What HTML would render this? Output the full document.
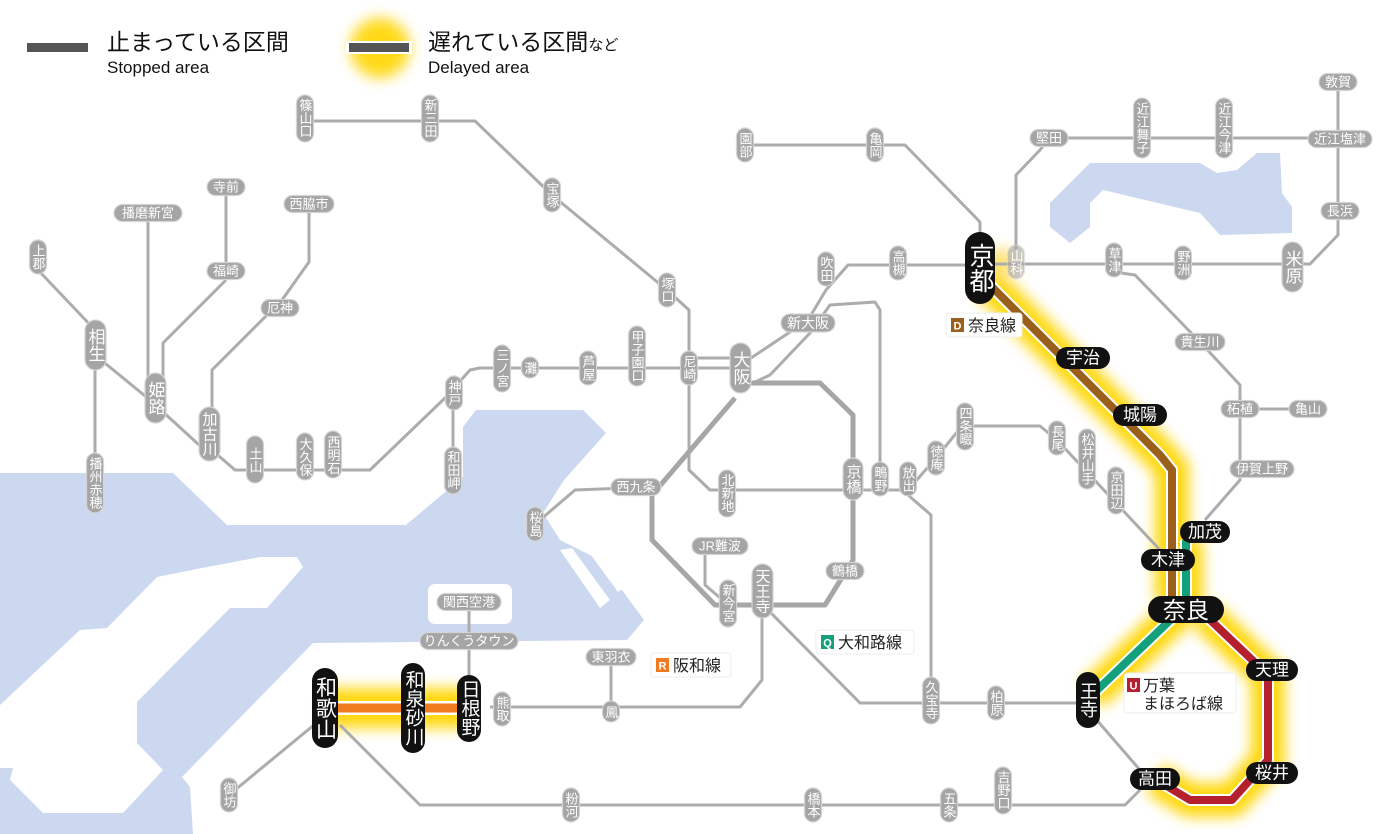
<!DOCTYPE html>
<html><head><meta charset="utf-8">
<style>
html,body{margin:0;padding:0;background:#fff;width:1400px;height:834px;overflow:hidden}
svg{display:block;font-family:"Liberation Sans","Noto Sans CJK JP",sans-serif}
.l{fill:none;stroke:#acacac;stroke-width:3;stroke-linejoin:round}
.lt{fill:none;stroke:#a6a6a6;stroke-width:5;stroke-linejoin:round}
.s{fill:#a5a5a5;stroke:#d4d4d4;stroke-width:1.2}
.t{fill:#fff;font-size:13px;text-anchor:middle;dominant-baseline:central}
.v{writing-mode:tb;glyph-orientation-vertical:0}
.tb{fill:#fff;text-anchor:middle;dominant-baseline:central}
.k{fill:#111}
</style></head><body>
<svg width="1400" height="834" viewBox="0 0 1400 834" xmlns="http://www.w3.org/2000/svg">
<defs>
<filter id="g" x="-30%" y="-30%" width="160%" height="160%"><feGaussianBlur stdDeviation="7"/></filter>
</defs>
<!-- water -->
<path d="M0,473 L173,473 L227,525 L406,525 L463,477 L463,427 L476,410 L583,410 L606,433 L564,480 L543,513 L560,540 L600,560 L644,620 L627,640 L313,643 L182,777 L190,787 L193,834 L0,834 Z" fill="#cbd8ef"/>
<path d="M107,628 L157,577 L207,567 L260,557 L297,557 L303,567 L267,608 L230,608 L137,702 L137,743 L163,770 L123,813 L43,813 L10,780 L13,768 L0,768 L0,705 L80,630 Z" fill="#fff"/>
<rect x="428" y="584" width="84" height="40" rx="7" fill="#fff"/>
<path d="M560,550 L572,548 L610,600 L600,608 Z M580,540 L594,536 L628,585 L618,592 Z" fill="#fff"/>
<path d="M1050,203 L1090,163 L1200,163 L1217,173 L1237,170 L1257,153 L1280,153 L1282,193 L1292,207 L1292,233 L1220,235 L1200,213 L1103,190 L1090,203 L1090,227 L1070,243 L1050,227 Z" fill="#cbd8ef"/>

<!-- glows -->
<g filter="url(#g)" opacity="0.95">
<path d="M985,280 L1160,455 L1172,470 L1172,600" stroke="#ffd500" stroke-width="34" fill="none"/>
<path d="M1186,540 L1186,605 L1092,695 M1205,615 L1268,675 L1268,760 L1232,800 L1190,800 L1155,779" stroke="#ffd500" stroke-width="34" fill="none" stroke-linejoin="round"/>
<path d="M325,708 L469,708" stroke="#ffd500" stroke-width="40" fill="none"/>
<path d="M980,262 L1015,262" stroke="#ffe070" stroke-width="24" fill="none"/>
</g>

<!-- gray lines -->
<g class="l">
<path d="M38,270 L95,330"/>
<path d="M95,355 L150,400 L210,455"/>
<path d="M95,355 L95,470"/>
<path d="M148,222 L148,398"/>
<path d="M226,196 L226,262 M226,280 L163,343 L163,385"/>
<path d="M309,213 L309,262 L282,300 L212,370 L212,420"/>
<path d="M212,450 L235,470 L370,470 L445,398 L470,370 L480,368 L740,368"/>
<path d="M445,398 L453,410 L453,455"/>
<path d="M690,358 L740,358"/>
<path d="M305,121 L475,121 L552,195 L667,290 L689,310 L689,470 L710,490 L908,490"/>
<path d="M880,490 L908,490"/>
<path d="M908,490 L936,458 L962,426 L1040,426 L1057,440 L1160,550"/>
<path d="M908,495 L931,515 L931,703"/>
<path d="M652,487 L575,490 L540,520"/>
<path d="M705,555 L705,585 L725,602"/>
<path d="M748,360 L808,320 L826,290 L848,265 L965,265"/>
<path d="M755,382 L770,375 L810,333 L830,305 L875,302 L880,310 L880,470"/>
<path d="M745,145 L905,145 L980,222 L980,240"/>
<path d="M985,264 L1310,264 L1338,235 L1338,82"/>
<path d="M1016,250 L1016,175 L1040,150 L1049,138 L1340,138"/>
<path d="M1114,272 L1135,275 L1200,342 L1240,385 L1240,480 L1205,520"/>
<path d="M1240,409 L1308,409"/>
<path d="M770,612 L860,703 L1088,703"/>
<path d="M1095,718 L1140,770"/>
<path d="M762,615 L762,680 L740,707 L490,707"/>
<path d="M611,657 L611,712"/>
<path d="M469,602 L469,690"/>
<path d="M320,720 L235,790"/>
<path d="M340,725 L420,805 L1125,805 L1140,790"/>
</g>
<g class="lt">
<path d="M745,383 L820,383 L853,415 L853,560 L825,605 L715,605 L652,540 L652,495 L735,398"/>
</g>

<!-- colored delayed lines -->
<path d="M985,280 L1160,455 L1172,470 L1172,600" stroke="#fff" stroke-width="12" fill="none"/>
<path d="M985,280 L1160,455 L1172,470 L1172,600" stroke="#9b5f1c" stroke-width="8" fill="none"/>
<path d="M1186,540 L1186,605 L1092,695" stroke="#fff" stroke-width="12" fill="none" stroke-linejoin="round"/>
<path d="M1186,540 L1186,605 L1092,695" stroke="#13a07a" stroke-width="8" fill="none" stroke-linejoin="round"/>
<path d="M1205,615 L1268,675 L1268,760 L1232,800 L1190,800 L1155,779" stroke="#fff" stroke-width="12" fill="none" stroke-linejoin="round"/>
<path d="M1205,615 L1268,675 L1268,760 L1232,800 L1190,800 L1155,779" stroke="#b5202e" stroke-width="8" fill="none" stroke-linejoin="round"/>
<path d="M325,708 L469,708" stroke="#fff" stroke-width="14" fill="none"/>
<path d="M325,708 L469,708" stroke="#f07a1e" stroke-width="9" fill="none"/>

<!-- gray stations vertical (13px) -->
<g>
<rect class="s" x="29.5" y="240" width="17" height="34" rx="8.5"/><text class="t v" x="38" y="257">上郡</text>
<rect class="s" x="86.5" y="453" width="17" height="60" rx="8.5"/><text class="t v" x="95" y="483">播州赤穂</text>
<rect class="s" x="246.5" y="436" width="17" height="47" rx="8.5"/><text class="t v" x="255" y="460">土山</text>
<rect class="s" x="296.5" y="433" width="17" height="47" rx="8.5"/><text class="t v" x="305" y="457">大久保</text>
<rect class="s" x="324.5" y="431" width="17" height="47" rx="8.5"/><text class="t v" x="333" y="455">西明石</text>
<rect class="s" x="445.5" y="376" width="17" height="34" rx="8.5"/><text class="t v" x="454" y="393">神戸</text>
<rect class="s" x="444.5" y="447" width="17" height="47" rx="8.5"/><text class="t v" x="453" y="470">和田岬</text>
<rect class="s" x="493.5" y="345" width="17" height="47" rx="8.5"/><text class="t v" x="502" y="368">三ノ宮</text>
<rect class="s" x="521.5" y="357" width="17" height="21" rx="8.5"/><text class="t v" x="530" y="368">灘</text>
<rect class="s" x="579.5" y="351" width="17" height="34" rx="8.5"/><text class="t v" x="588" y="368">芦屋</text>
<rect class="s" x="628.5" y="326" width="17" height="60" rx="8.5"/><text class="t v" x="637" y="356">甲子園口</text>
<rect class="s" x="680.5" y="351" width="17" height="34" rx="8.5"/><text class="t v" x="689" y="368">尼崎</text>
<rect class="s" x="658.5" y="273" width="17" height="34" rx="8.5"/><text class="t v" x="667" y="290">塚口</text>
<rect class="s" x="543.5" y="178" width="17" height="34" rx="8.5"/><text class="t v" x="552" y="195">宝塚</text>
<rect class="s" x="421.5" y="95" width="17" height="47" rx="8.5"/><text class="t v" x="430" y="118">新三田</text>
<rect class="s" x="296.5" y="95" width="17" height="47" rx="8.5"/><text class="t v" x="305" y="118">篠山口</text>
<rect class="s" x="736.5" y="128" width="17" height="34" rx="8.5"/><text class="t v" x="745" y="145">園部</text>
<rect class="s" x="866.5" y="128" width="17" height="34" rx="8.5"/><text class="t v" x="875" y="145">亀岡</text>
<rect class="s" x="817.5" y="252" width="17" height="34" rx="8.5"/><text class="t v" x="826" y="269">吹田</text>
<rect class="s" x="889.5" y="246" width="17" height="34" rx="8.5"/><text class="t v" x="898" y="263">高槻</text>
<rect class="s" x="1007.5" y="245" width="17" height="34" rx="8.5" opacity="0.6"/><text class="t v" x="1016" y="262">山科</text>
<rect class="s" x="1133.5" y="98" width="17" height="60" rx="8.5"/><text class="t v" x="1142" y="128">近江舞子</text>
<rect class="s" x="1215.5" y="98" width="17" height="60" rx="8.5"/><text class="t v" x="1224" y="128">近江今津</text>
<rect class="s" x="1174.5" y="246" width="17" height="34" rx="8.5"/><text class="t v" x="1183" y="263">野洲</text>
<rect class="s" x="1105.5" y="243" width="17" height="34" rx="8.5"/><text class="t v" x="1114" y="260">草津</text>
<rect class="s" x="956.5" y="403" width="17" height="47" rx="8.5"/><text class="t v" x="965" y="426">四条畷</text>
<rect class="s" x="1048.5" y="421" width="17" height="34" rx="8.5"/><text class="t v" x="1057" y="438">長尾</text>
<rect class="s" x="1078.5" y="429" width="17" height="60" rx="8.5"/><text class="t v" x="1087" y="459">松井山手</text>
<rect class="s" x="1107.5" y="467" width="17" height="47" rx="8.5"/><text class="t v" x="1116" y="490">京田辺</text>
<rect class="s" x="927.5" y="441" width="17" height="34" rx="8.5"/><text class="t v" x="936" y="458">徳庵</text>
<rect class="s" x="899.5" y="462" width="17" height="34" rx="8.5"/><text class="t v" x="908" y="479">放出</text>
<rect class="s" x="871.5" y="462" width="17" height="34" rx="8.5"/><text class="t v" x="880" y="479">鴫野</text>
<rect class="s" x="718.5" y="470" width="17" height="47" rx="8.5"/><text class="t v" x="727" y="493">北新地</text>
<rect class="s" x="526.5" y="507" width="17" height="34" rx="8.5"/><text class="t v" x="535" y="524">桜島</text>
<rect class="s" x="719.5" y="580" width="17" height="47" rx="8.5"/><text class="t v" x="728" y="603">新今宮</text>
<rect class="s" x="602.5" y="701" width="17" height="21" rx="8.5"/><text class="t v" x="611" y="712">鳳</text>
<rect class="s" x="493.5" y="692" width="17" height="34" rx="8.5"/><text class="t v" x="502" y="709">熊取</text>
<rect class="s" x="220.5" y="778" width="17" height="34" rx="8.5"/><text class="t v" x="229" y="795">御坊</text>
<rect class="s" x="562.5" y="788" width="17" height="34" rx="8.5"/><text class="t v" x="571" y="805">粉河</text>
<rect class="s" x="804.5" y="788" width="17" height="34" rx="8.5"/><text class="t v" x="813" y="805">橋本</text>
<rect class="s" x="940.5" y="788" width="17" height="34" rx="8.5"/><text class="t v" x="949" y="805">五条</text>
<rect class="s" x="994.5" y="767" width="17" height="47" rx="8.5"/><text class="t v" x="1003" y="790">吉野口</text>
<rect class="s" x="922.5" y="677" width="17" height="47" rx="8.5"/><text class="t v" x="931" y="700">久宝寺</text>
<rect class="s" x="987.5" y="686" width="17" height="34" rx="8.5"/><text class="t v" x="996" y="703">柏原</text>
</g>
<!-- larger gray vertical -->
<g>
<rect class="s" x="85" y="320" width="21" height="50" rx="10.5"/><text class="t v" x="95" y="345" style="font-size:17px">相生</text>
<rect class="s" x="145" y="373" width="21" height="50" rx="10.5"/><text class="t v" x="155" y="398" style="font-size:17px">姫路</text>
<rect class="s" x="199" y="407" width="21" height="54" rx="10.5"/><text class="t v" x="209" y="434" style="font-size:15px">加古川</text>
<rect class="s" x="730" y="343" width="21" height="50" rx="10.5"/><text class="t v" x="740" y="368" style="font-size:17px">大阪</text>
<rect class="s" x="1282" y="242" width="21" height="50" rx="10.5"/><text class="t v" x="1292" y="267" style="font-size:17px">米原</text>
<rect class="s" x="843" y="458" width="20" height="42" rx="10"/><text class="t v" x="853" y="479" style="font-size:15px">京橋</text>
<rect class="s" x="752" y="564" width="21" height="54" rx="10.5"/><text class="t v" x="762" y="591" style="font-size:15px">天王寺</text>
</g>
<!-- gray horizontal -->
<g>
<rect class="s" x="114" y="204.5" width="68" height="17" rx="8.5"/><text class="t" x="148" y="213">播磨新宮</text>
<rect class="s" x="207" y="178.5" width="38" height="17" rx="8.5"/><text class="t" x="226" y="187">寺前</text>
<rect class="s" x="207" y="262.5" width="38" height="17" rx="8.5"/><text class="t" x="226" y="271">福崎</text>
<rect class="s" x="284" y="195.5" width="50" height="17" rx="8.5"/><text class="t" x="309" y="204">西脇市</text>
<rect class="s" x="261" y="299.5" width="38" height="17" rx="8.5"/><text class="t" x="280" y="308">厄神</text>
<rect class="s" x="781" y="314" width="54" height="18" rx="9"/><text class="t" x="808" y="323" style="font-size:14px">新大阪</text>
<rect class="s" x="1030" y="129.5" width="38" height="17" rx="8.5"/><text class="t" x="1049" y="138">堅田</text>
<rect class="s" x="1308" y="130.5" width="64" height="17" rx="8.5"/><text class="t" x="1340" y="139">近江塩津</text>
<rect class="s" x="1319" y="73.5" width="38" height="17" rx="8.5"/><text class="t" x="1338" y="82">敦賀</text>
<rect class="s" x="1321" y="202.5" width="38" height="17" rx="8.5"/><text class="t" x="1340" y="211">長浜</text>
<rect class="s" x="1175" y="333.5" width="50" height="17" rx="8.5"/><text class="t" x="1200" y="342">貴生川</text>
<rect class="s" x="1221" y="400.5" width="38" height="17" rx="8.5"/><text class="t" x="1240" y="409">柘植</text>
<rect class="s" x="1289" y="400.5" width="38" height="17" rx="8.5"/><text class="t" x="1308" y="409">亀山</text>
<rect class="s" x="1230" y="460.5" width="64" height="17" rx="8.5"/><text class="t" x="1262" y="469">伊賀上野</text>
<rect class="s" x="611" y="478.5" width="50" height="17" rx="8.5"/><text class="t" x="636" y="487">西九条</text>
<rect class="s" x="692" y="537.5" width="56" height="17" rx="8.5"/><text class="t" x="720" y="546">JR難波</text>
<rect class="s" x="826" y="562.5" width="38" height="17" rx="8.5"/><text class="t" x="845" y="571">鶴橋</text>
<rect class="s" x="586" y="648.5" width="50" height="17" rx="8.5"/><text class="t" x="611" y="657">東羽衣</text>
<rect class="s" x="437" y="593.5" width="64" height="17" rx="8.5"/><text class="t" x="469" y="602">関西空港</text>
<rect class="s" x="420" y="632.5" width="98" height="17" rx="8.5"/><text class="t" x="469" y="641">りんくうタウン</text>
</g>

<!-- black stations -->
<g>
<rect class="k" x="965" y="232" width="30" height="72" rx="15"/><text class="tb v" x="980" y="268" style="font-size:25px">京都</text>
<rect class="k" x="1148" y="596" width="76" height="27" rx="13.5"/><text class="tb" x="1186" y="610" style="font-size:23px">奈良</text>
<rect class="k" x="1056" y="347" width="54" height="22" rx="11"/><text class="tb" x="1083" y="358" style="font-size:17px">宇治</text>
<rect class="k" x="1113" y="404" width="54" height="22" rx="11"/><text class="tb" x="1140" y="415" style="font-size:17px">城陽</text>
<rect class="k" x="1141" y="549" width="54" height="22" rx="11"/><text class="tb" x="1168" y="560" style="font-size:17px">木津</text>
<rect class="k" x="1180" y="521" width="50" height="22" rx="11"/><text class="tb" x="1205" y="532" style="font-size:17px">加茂</text>
<rect class="k" x="1246" y="659" width="52" height="22" rx="11"/><text class="tb" x="1272" y="670" style="font-size:17px">天理</text>
<rect class="k" x="1246" y="762" width="52" height="22" rx="11"/><text class="tb" x="1272" y="773" style="font-size:17px">桜井</text>
<rect class="k" x="1130" y="768" width="50" height="22" rx="11"/><text class="tb" x="1155" y="779" style="font-size:17px">高田</text>
<rect class="k" x="1076" y="672" width="24" height="56" rx="12"/><text class="tb v" x="1088" y="700" style="font-size:18px">王寺</text>
<rect class="k" x="312" y="668" width="26" height="80" rx="13"/><text class="tb v" x="325" y="708" style="font-size:21px">和歌山</text>
<rect class="k" x="401" y="663" width="24" height="90" rx="12"/><text class="tb v" x="413" y="708" style="font-size:19px">和泉砂川</text>
<rect class="k" x="457" y="675" width="24" height="67" rx="12"/><text class="tb v" x="469" y="708" style="font-size:19px">日根野</text>
</g>

<!-- line labels -->
<g>
<rect x="946" y="313" width="76" height="24" rx="3" fill="#fff" stroke="#eee"/>
<rect x="951" y="318" width="13" height="14" fill="#9b5f1c"/><text x="957.5" y="329.5" fill="#fff" font-size="11" font-weight="bold" text-anchor="middle">D</text>
<text x="968" y="331" font-size="16" fill="#222">奈良線</text>
<rect x="816" y="630" width="98" height="24" rx="3" fill="#fff" stroke="#eee"/>
<rect x="821" y="635" width="13" height="14" fill="#13a07a"/><text x="827.5" y="646.5" fill="#fff" font-size="11" font-weight="bold" text-anchor="middle">Q</text>
<text x="838" y="648" font-size="16" fill="#222">大和路線</text>
<rect x="651" y="653" width="80" height="24" rx="3" fill="#fff" stroke="#eee"/>
<rect x="656" y="658" width="13" height="14" fill="#f07a1e"/><text x="662.5" y="669.5" fill="#fff" font-size="11" font-weight="bold" text-anchor="middle">R</text>
<text x="673" y="671" font-size="16" fill="#222">阪和線</text>
<rect x="1124" y="673" width="112" height="40" rx="4" fill="#fff" stroke="#eee"/>
<rect x="1127" y="678" width="13" height="14" fill="#b5202e"/><text x="1133.5" y="689.5" fill="#fff" font-size="11" font-weight="bold" text-anchor="middle">U</text>
<text x="1143" y="691" font-size="16" fill="#222">万葉</text>
<text x="1143" y="709" font-size="16" fill="#222">まほろば線</text>
</g>

<!-- legend -->
<rect x="27" y="43" width="61" height="9" fill="#555"/>
<text x="107" y="50" font-size="23" fill="#111">止まっている区間</text>
<text x="107" y="73" font-size="17" fill="#111">Stopped area</text>
<circle cx="380" cy="48" r="30" fill="#ffd500" filter="url(#g)" opacity="0.9"/>
<rect x="346" y="41" width="66" height="13" fill="#fff"/>
<rect x="349" y="43" width="60" height="9" fill="#555"/>
<text x="428" y="50" font-size="23" fill="#111">遅れている区間<tspan font-size="15">など</tspan></text>
<text x="428" y="73" font-size="17" fill="#111">Delayed area</text>
</svg>
</body></html>
